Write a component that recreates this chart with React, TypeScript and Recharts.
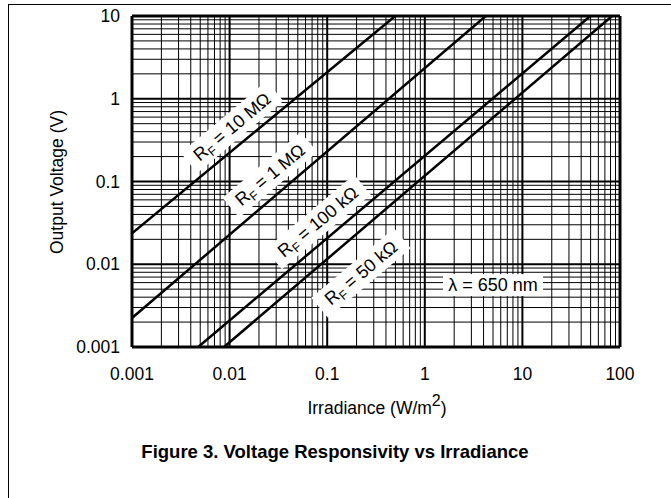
import React from "react";
import { LineChart, Line, XAxis, YAxis, ReferenceLine, ReferenceDot } from "recharts";

// ---- data ----
const xTicks = [0.001, 0.01, 0.1, 1, 10, 100];
const xTickLabels = ["0.001", "0.01", "0.1", "1", "10", "100"];
const yTicks = [0.001, 0.01, 0.1, 1, 10];
const yTickLabels = ["0.001", "0.01", "0.1", "1", "10"];

const xMinorGrid = [
  0.002, 0.003, 0.004, 0.005, 0.006, 0.007, 0.008, 0.009,
  0.02, 0.03, 0.04, 0.05, 0.06, 0.07, 0.08, 0.09,
  0.2, 0.3, 0.4, 0.5, 0.6, 0.7, 0.8, 0.9,
  2, 3, 4, 5, 6, 7, 8, 9,
  20, 30, 40, 50, 60, 70, 80, 90,
];
const yMinorGrid = [
  0.002, 0.003, 0.004, 0.005, 0.006, 0.007, 0.008, 0.009,
  0.02, 0.03, 0.04, 0.05, 0.06, 0.07, 0.08, 0.09,
  0.2, 0.3, 0.4, 0.5, 0.6, 0.7, 0.8, 0.9,
  2, 3, 4, 5, 6, 7, 8, 9,
];

const rf10M = [
  { x: 0.001, y: 0.0236 },
  { x: 0.498, y: 10 },
];
const rf1M = [
  { x: 0.001, y: 0.00224 },
  { x: 4.22, y: 10 },
];
const rf100k = [
  { x: 0.00477, y: 0.001 },
  { x: 49.7, y: 10 },
];
const rf50k = [
  { x: 0.00877, y: 0.001 },
  { x: 83, y: 10 },
];

const curveLabels = [
  { x: 0.0106, y: 0.456, value: "10 MΩ", w: 112 },
  { x: 0.0259, y: 0.12, value: "1 MΩ", w: 102 },
  { x: 0.0805, y: 0.0324, value: "100 kΩ", w: 116 },
  { x: 0.222, y: 0.00783, value: "50 kΩ", w: 108 },
];
const noteLabel = { x: 5.0, y: 0.0056, value: "λ = 650 nm" };

const FONT = "'Liberation Sans', Arial, Helvetica, sans-serif";

const XTick = (props: any) => {
  const { x, y, payload } = props;
  const i = xTicks.indexOf(payload.value);
  return (
    <text x={x} y={y + 33} textAnchor="middle" fontSize={17.5} fontFamily={FONT} fill="#000">
      {i >= 0 ? xTickLabels[i] : String(payload.value)}
    </text>
  );
};

const YTick = (props: any) => {
  const { x, y, payload } = props;
  const i = yTicks.indexOf(payload.value);
  return (
    <text x={x - 12} y={y + 6} textAnchor="end" fontSize={17.5} fontFamily={FONT} fill="#000">
      {i >= 0 ? yTickLabels[i] : String(payload.value)}
    </text>
  );
};

const makeCurveLabel = (value: string, w: number) => (props: any) => {
  const { cx, cy } = props;
  return (
    <g transform={`translate(${cx},${cy}) rotate(-40)`}>
      <rect x={-w / 2} y={-13} width={w} height={26} fill="#fff" />
      <text x={0} y={6} textAnchor="middle" fontSize={18} fontFamily={FONT} fill="#000">
        R<tspan fontSize={12.5} dy={4}>F</tspan>
        <tspan dy={-4}>{" = " + value}</tspan>
      </text>
    </g>
  );
};

const noteShape = (props: any) => {
  const { cx, cy } = props;
  return (
    <g>
      <rect x={cx - 50} y={cy - 11} width={100} height={22} fill="#fff" />
      <text x={cx} y={cy + 6} textAnchor="middle" fontSize={18} fontFamily={FONT} fill="#000">
        {noteLabel.value}
      </text>
    </g>
  );
};

export default function App() {
  return (
    <div style={{ position: "absolute", left: 0, top: 0, width: 671, height: 498, background: "#fff", fontFamily: FONT }}>
      <div style={{ position: "absolute", left: 8, top: 4, width: 663, height: 494, borderTop: "1.5px solid #000", borderLeft: "1.5px solid #000", boxSizing: "border-box" }} />
      <div style={{ position: "absolute", left: 0, top: 0 }}>
        <LineChart width={671} height={498} margin={{ top: 16, right: 51, left: 0, bottom: 111 }}>
          <XAxis
            type="number"
            dataKey="x"
            scale="log"
            domain={[0.001, 100]}
            allowDataOverflow
            ticks={xTicks}
            tick={<XTick />}
            tickLine={false}
            axisLine={false}
            tickSize={0}
            tickMargin={0}
            height={40}
            interval={0}
          />
          <YAxis
            type="number"
            dataKey="y"
            scale="log"
            domain={[0.001, 10]}
            allowDataOverflow
            ticks={yTicks}
            tick={<YTick />}
            tickLine={false}
            axisLine={false}
            tickSize={0}
            tickMargin={0}
            width={132}
            interval={0}
          />
          {xMinorGrid.map((v) => (
            <ReferenceLine key={"xm" + v} x={v} stroke="#000" strokeWidth={1} />
          ))}
          {yMinorGrid.map((v) => (
            <ReferenceLine key={"ym" + v} y={v} stroke="#000" strokeWidth={1} />
          ))}
          {xTicks.map((v) => (
            <ReferenceLine key={"xM" + v} x={v} stroke="#000" strokeWidth={v === 0.001 || v === 100 ? 3 : 2} />
          ))}
          {yTicks.map((v) => (
            <ReferenceLine key={"yM" + v} y={v} stroke="#000" strokeWidth={v === 0.001 || v === 10 ? 3 : 2} />
          ))}
          {curveLabels.map((l) => (
            <ReferenceDot key={l.value} x={l.x} y={l.y} r={0} shape={makeCurveLabel(l.value, l.w)} />
          ))}
          <ReferenceDot x={noteLabel.x} y={noteLabel.y} r={0} shape={noteShape} />
          <Line data={rf10M} dataKey="y" stroke="#000" strokeWidth={2.5} dot={false} isAnimationActive={false} />
          <Line data={rf1M} dataKey="y" stroke="#000" strokeWidth={2.5} dot={false} isAnimationActive={false} />
          <Line data={rf100k} dataKey="y" stroke="#000" strokeWidth={2.5} dot={false} isAnimationActive={false} />
          <Line data={rf50k} dataKey="y" stroke="#000" strokeWidth={2.5} dot={false} isAnimationActive={false} />
        </LineChart>
      </div>
      <div style={{ position: "absolute", left: 57, top: 182, transform: "translate(-50%,-50%) rotate(-90deg)", whiteSpace: "nowrap", fontSize: 17.5, color: "#000" }}>
        Output Voltage (V)
      </div>
      <div style={{ position: "absolute", left: 377, top: 408, transform: "translate(-50%,-50%)", whiteSpace: "nowrap", fontSize: 17.5, color: "#000" }}>
        Irradiance (W/m<span style={{ fontSize: 16, position: "relative", top: -8 }}>2</span>)
      </div>
      <div style={{ position: "absolute", left: 335, top: 452, transform: "translate(-50%,-50%)", whiteSpace: "nowrap", fontSize: 18.5, fontWeight: "bold", color: "#000" }}>
        Figure 3. Voltage Responsivity vs Irradiance
      </div>
    </div>
  );
}
